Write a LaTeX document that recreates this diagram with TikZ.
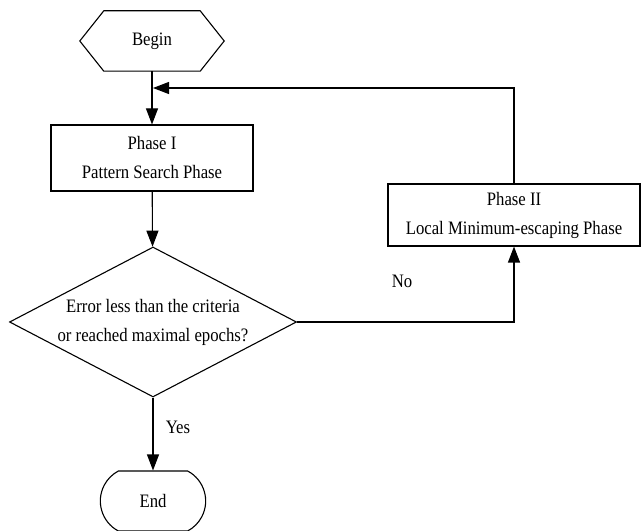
\documentclass[tikz,border=0pt]{standalone}
\usepackage{fontspec}
\setmainfont[FakeStretch=0.88]{Liberation Serif}
\usetikzlibrary{arrows.meta,shapes.geometric,shapes.misc}
\tikzset{every node/.style={font=\fontsize{19}{29}\selectfont},
         line/.style={line width=1.1pt},
         box/.style={line,draw,rectangle,align=center,inner sep=0pt},
         decision/.style={line,draw,diamond,aspect=1.9,inner sep=0pt,align=center,minimum width=287pt,minimum height=150pt},
         stop/.style={line,draw,rounded rectangle,rounded rectangle arc length=124,minimum width=112pt,minimum height=60pt}}

\begin{document}
\begin{tikzpicture}[x=1pt,y=1pt,>={Triangle[length=16pt,width=12pt]}]
      \useasboundingbox (0,0) rectangle (642,530);
      \node[minimum width=144pt,minimum height=60pt,inner sep=0pt] (begin) at (152,489) {Begin};
      \draw[line] (begin.west) -- ([xshift=24pt]begin.north west) -- ([xshift=-24pt]begin.north east)
                  -- (begin.east) -- ([xshift=-24pt]begin.south east) -- ([xshift=24pt]begin.south west) -- cycle;
      \node[box,minimum width=202pt,minimum height=66pt] (phase1) at (152,372) {Phase I\\Pattern Search Phase};
      \node[decision] (test) at (153,208) {Error less than the criteria\\or reached maximal epochs?};
      \node[box,minimum width=252pt,minimum height=62pt] (phase2) at (514,315) {Phase II\\Local Minimum-escaping Phase};
      \node[stop] (end) at (153,29) {End};
      \node (no) at (402,249) {No};
      \node (yes) at (178,103) {Yes};
      \coordinate (join) at (153,442);
      \draw[line,->] (begin) -- (phase1);
      \draw[line,->] (phase1) -- (test);
      \draw[line,->] (test.east) -| (phase2.south);
      \draw[line,->] (phase2.north) |- (join);
      \draw[line,->] (test.south) -- (end.north);
    \end{tikzpicture}
\end{document}
